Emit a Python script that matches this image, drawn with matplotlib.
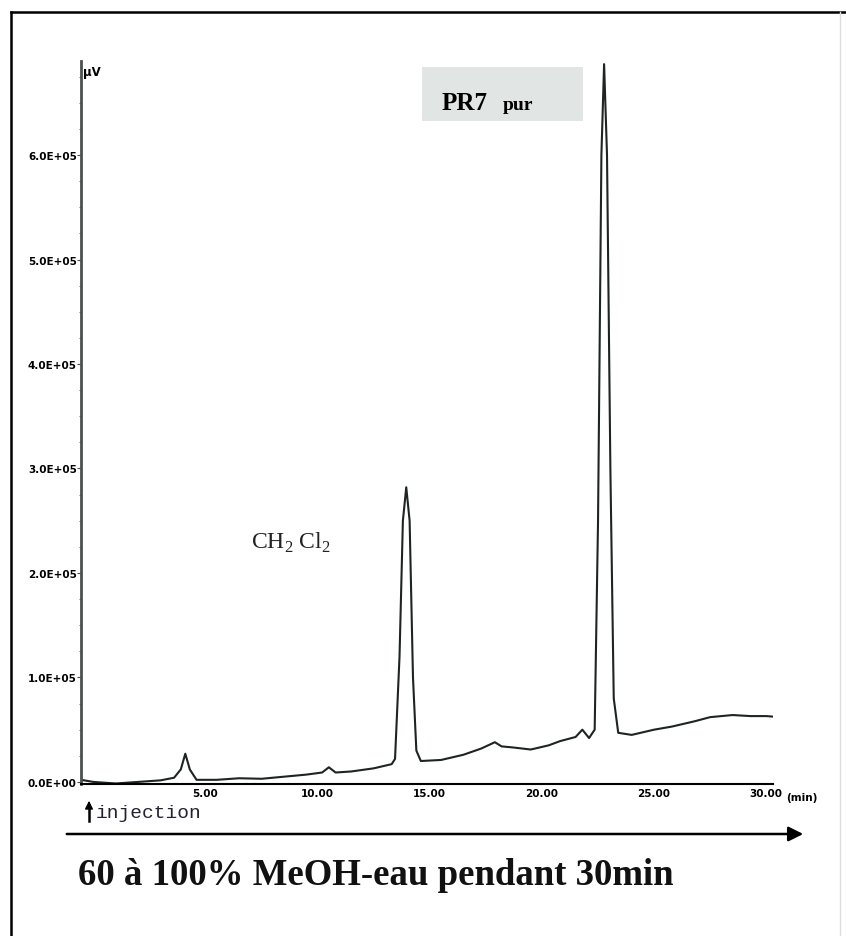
import numpy as np
import matplotlib
matplotlib.use('Agg')
import matplotlib.pyplot as plt
from matplotlib.lines import Line2D

plt.rcParams['mathtext.fontset'] = 'custom'
plt.rcParams['mathtext.rm'] = 'Liberation Serif'

# chromatogram trace: retention time (min) / signal (µV)
time_min = [-0.55, 0.0, 1.0, 2.0, 3.0, 3.6, 3.9, 4.1, 4.3, 4.6, 5.5, 6.5, 7.5, 8.5,
            9.5, 10.2, 10.5, 10.8, 11.5, 12.5, 13.3, 13.45, 13.65, 13.8, 13.95, 14.1,
            14.25, 14.4, 14.6, 15.5, 16.5, 17.3, 17.9, 18.2, 18.7, 19.5, 20.3, 20.8,
            21.5, 21.8, 22.1, 22.35, 22.5, 22.65, 22.77, 22.9, 23.05, 23.2, 23.4,
            24.0, 25.0, 25.8, 26.8, 27.5, 28.5, 29.3, 30.0, 30.6]
signal_uv = [2000, 0, -1500, 0, 1500, 4000, 12000, 27000, 12000, 2000, 2000, 3500,
             3000, 5000, 7000, 9000, 14000, 9000, 10000, 13000, 17000, 22000, 120000,
             250000, 282000, 250000, 100000, 30000, 20000, 21000, 26000, 32000, 38000,
             34000, 33000, 31000, 35000, 39000, 43000, 50000, 42000, 50000, 250000,
             600000, 687000, 600000, 300000, 80000, 47000, 45000, 50000, 53000,
             58000, 62000, 64000, 63000, 63000, 62000]

y_ticks = [0, 1e5, 2e5, 3e5, 4e5, 5e5, 6e5]
y_tick_labels = ['0.0E+00', '1.0E+05', '2.0E+05', '3.0E+05', '4.0E+05', '5.0E+05', '6.0E+05']
x_ticks = [5, 10, 15, 20, 25, 30]
x_tick_labels = ['5.00', '10.00', '15.00', '20.00', '25.00', '30.00']

W, H = 846, 937
fig = plt.figure(figsize=(W / 100, H / 100), dpi=100)
fig.patch.set_facecolor('white')

def fx(px):
    return px / W

def fy(py):
    return 1 - py / H

# outer frame (left, top, faint right)
fig.add_artist(Line2D([fx(11), fx(11)], [fy(13), 0], color='black', lw=1.8))
fig.add_artist(Line2D([fx(11), 1], [fy(13), fy(13)], color='black', lw=1.8))
fig.add_artist(Line2D([fx(840), fx(840)], [fy(13), 0], color='#dddddd', lw=1))

ax = fig.add_axes([fx(81), fy(785), fx(773) - fx(81), fy(62) - fy(785)])
ax.plot(time_min, signal_uv, color='#1e2420', lw=1.5)
ax.set_xlim(-0.55, 30.3)
ax.set_ylim(-2000, 6.9e5)

for s in ['top', 'right']:
    ax.spines[s].set_visible(False)
ax.spines['left'].set_color('#4a524e')
ax.spines['left'].set_linewidth(2)
ax.spines['bottom'].set_color('black')
ax.spines['bottom'].set_linewidth(1.5)

ax.set_yticks(y_ticks)
ax.set_yticklabels(y_tick_labels, fontsize=7.5, fontweight='bold', family='DejaVu Sans')
ax.set_yticks(np.arange(0, 6.9e5, 2.5e4), minor=True)
ax.tick_params(axis='y', which='major', length=3, pad=0, direction='out', color='#4a524e')
ax.tick_params(axis='y', which='minor', length=1.5, direction='out', color='#4a524e')

ax.set_xticks(x_ticks)
ax.set_xticklabels(x_tick_labels, fontsize=7.5, fontweight='bold', family='DejaVu Sans')
ax.tick_params(axis='x', length=0, pad=3)
ax.annotate('(min)', xy=(30, 0), xycoords=('data', 'axes fraction'),
            xytext=(14, -9.5), textcoords='offset points', fontsize=7.5,
            fontweight='bold', family='DejaVu Sans', ha='left', va='center')

fig.text(fx(83), fy(76), 'µV', fontsize=8.5, fontweight='bold',
         family='DejaVu Sans', ha='left', va='baseline')

# peak labels
fig.patches.append(plt.Rectangle((fx(422), fy(122)), fx(583) - fx(422), fy(68) - fy(122),
                                 transform=fig.transFigure, facecolor='#e1e5e4',
                                 edgecolor='none', zorder=0))
fig.text(fx(442), fy(110), 'PR7', fontsize=18, fontweight='bold',
         family='Liberation Serif', ha='left', va='baseline')
fig.text(fx(503), fy(110), 'pur', fontsize=14, fontweight='bold',
         family='Liberation Serif', ha='left', va='baseline')
fig.text(fx(251), fy(549), r'CH$_2$ Cl$_2$', fontsize=17, family='Liberation Serif',
         ha='left', va='baseline', color='#222222')

# injection marker and gradient arrow
fig.add_artist(plt.Line2D([fx(89), fx(89)], [fy(822), fy(806)], color='black', lw=1.8))
ax.annotate('', xy=(fx(89), fy(799)), xytext=(fx(89), fy(808)), xycoords='figure fraction',
            arrowprops=dict(arrowstyle='-|>', color='black', lw=1, mutation_scale=12))
fig.text(fx(96), fy(818), 'injection', fontsize=14, family='Liberation Mono',
         ha='left', va='baseline', color='#222233')

ax.annotate('', xy=(fx(806), fy(835)), xytext=(fx(64), fy(835)), xycoords='figure fraction',
            arrowprops=dict(arrowstyle='-|>', color='black', lw=1.8, mutation_scale=22))
fig.text(fx(78), fy(885), '60 à 100% MeOH-eau pendant 30min', fontsize=26.5,
         fontweight='bold', family='Liberation Serif', ha='left', va='baseline',
         color='#111111')

fig.savefig('out.png', dpi=100, facecolor='white')
